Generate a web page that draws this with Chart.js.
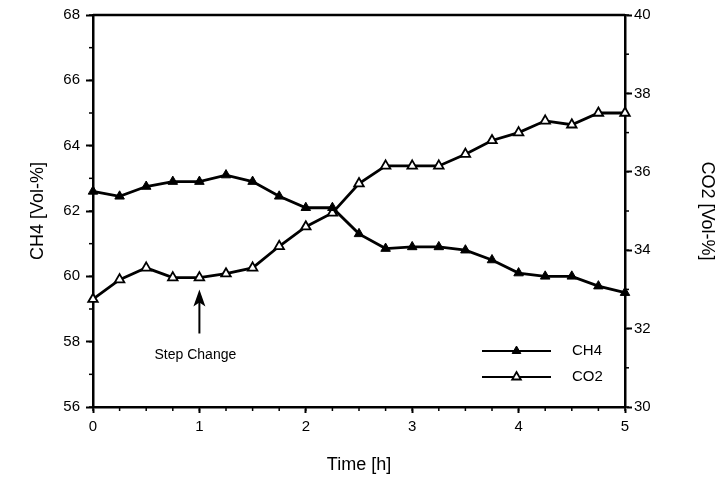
<!DOCTYPE html>
<html>
<head>
<meta charset="utf-8">
<script src="https://cdn.jsdelivr.net/npm/chart.js@4/dist/chart.umd.min.js"></script>
<style>
  html, body { margin: 0; padding: 0; background: #fff; }
</style>
</head>
<body>
<canvas id="gasChart" width="720" height="484"></canvas>
<script>
// === DATA ===
const hours = [0, 0.25, 0.5, 0.75, 1, 1.25, 1.5, 1.75, 2, 2.25, 2.5, 2.75, 3, 3.25, 3.5, 3.75, 4, 4.25, 4.5, 4.75, 5];
const ch4 = [62.6, 62.45, 62.75, 62.9, 62.9, 63.1, 62.9, 62.45, 62.1, 62.1, 61.3, 60.85, 60.9, 60.9, 60.8, 60.5, 60.1, 60.0, 60.0, 59.7, 59.5];
const co2 = [32.75, 33.25, 33.55, 33.3, 33.3, 33.4, 33.55, 34.1, 34.6, 34.95, 35.7, 36.15, 36.15, 36.15, 36.45, 36.8, 37.0, 37.3, 37.2, 37.5, 37.5];

const timeTicks = [0, 1, 2, 3, 4, 5];
const ch4Ticks = [56, 58, 60, 62, 64, 66, 68];
const co2Ticks = [30, 32, 34, 36, 38, 40];

const seriesNames = ['CH4', 'CO2'];
const stepChangeLabel = 'Step Change';
const stepChangeAt = 1;

const FONT = "'Liberation Sans', Arial, Helvetica, sans-serif";
Chart.defaults.font.family = FONT;
Chart.defaults.color = '#000';

const toPoints = (vals) => hours.map((h, i) => ({ x: h, y: vals[i] }));
const useTicks = (list) => (scale) => { scale.ticks = list.map(v => ({ value: v })); };

// minor ticks between the labelled ones
const minorTicks = {
  id: 'minorTicks',
  afterDraw(chart) {
    const ctx = chart.ctx;
    ctx.save();
    ctx.strokeStyle = '#000';
    ctx.lineWidth = 1.5;
    Object.values(chart.scales).forEach(scale => {
      const step = scale.options.minorStep;
      if (!step) return;
      const len = scale.options.minorLength || 4;
      for (let v = scale.min; v <= scale.max + 1e-9; v += step) {
        const p = scale.getPixelForValue(v);
        ctx.beginPath();
        if (scale.position === 'bottom') {
          ctx.moveTo(p, scale.top); ctx.lineTo(p, scale.top + len);
        } else if (scale.position === 'left') {
          ctx.moveTo(scale.right, p); ctx.lineTo(scale.right - len, p);
        } else {
          ctx.moveTo(scale.left, p); ctx.lineTo(scale.left + len, p);
        }
        ctx.stroke();
      }
    });
    // top frame line
    const a = chart.chartArea;
    ctx.lineWidth = 2.5;
    ctx.beginPath();
    ctx.moveTo(a.left, a.top);
    ctx.lineTo(a.right, a.top);
    ctx.stroke();
    ctx.restore();
  }
};

// arrow + caption marking the step change
const stepMarker = {
  id: 'stepMarker',
  afterDatasetsDraw(chart, args, opts) {
    const ctx = chart.ctx;
    const x = chart.scales.x.getPixelForValue(stepChangeAt);
    const yL = chart.scales.yCH4;
    const tip = yL.getPixelForValue(opts.tip);
    const tail = yL.getPixelForValue(opts.tail);
    ctx.save();
    ctx.strokeStyle = '#000';
    ctx.fillStyle = '#000';
    ctx.lineWidth = 2;
    ctx.beginPath();
    ctx.moveTo(x, tail);
    ctx.lineTo(x, tip + 10);
    ctx.stroke();
    ctx.beginPath();
    ctx.moveTo(x, tip);
    ctx.lineTo(x - 6, tip + 17);
    ctx.lineTo(x, tip + 13);
    ctx.lineTo(x + 6, tip + 17);
    ctx.closePath();
    ctx.fill();
    ctx.font = '14px ' + FONT;
    ctx.textAlign = 'center';
    ctx.textBaseline = 'middle';
    ctx.fillText(stepChangeLabel, x - 4, yL.getPixelForValue(opts.text));
    ctx.restore();
  }
};

// legend drawn inside the plot: line segment with marker, then name
const innerLegend = {
  id: 'innerLegend',
  afterDraw(chart, args, opts) {
    const ctx = chart.ctx;
    ctx.save();
    chart.data.datasets.forEach((ds, i) => {
      const y = opts.y + i * opts.rowGap;
      ctx.strokeStyle = '#000';
      ctx.lineWidth = 2;
      ctx.beginPath();
      ctx.moveTo(opts.x, y);
      ctx.lineTo(opts.x + opts.length, y);
      ctx.stroke();
      ctx.fillStyle = ds.pointBackgroundColor;
      ctx.strokeStyle = ds.pointBorderColor;
      ctx.lineWidth = ds.pointBorderWidth;
      Chart.helpers.drawPoint(ctx, { pointStyle: 'triangle', rotation: 0, radius: 5, borderWidth: ds.pointBorderWidth },
        opts.x + opts.length / 2, y);
      ctx.fillStyle = '#000';
      ctx.font = '15px ' + FONT;
      ctx.textAlign = 'left';
      ctx.textBaseline = 'middle';
      ctx.fillText(ds.label, opts.x + opts.length + opts.textGap, y);
    });
    ctx.restore();
  }
};

const axisCommon = {
  border: { display: true, color: '#000', width: 2.5 },
  grid: { display: true, drawOnChartArea: false, drawTicks: true, tickLength: 7, tickWidth: 2, tickColor: '#000' },
};

new Chart(document.getElementById('gasChart'), {
  type: 'line',
  data: {
    datasets: [
      {
        label: seriesNames[0],
        data: toPoints(ch4),
        yAxisID: 'yCH4',
        borderColor: '#000',
        borderWidth: 2.8,
        tension: 0,
        pointStyle: 'triangle',
        pointRadius: 5.5,
        pointBackgroundColor: '#000',
        pointBorderColor: '#000',
        pointBorderWidth: 1,
        clip: false
      },
      {
        label: seriesNames[1],
        data: toPoints(co2),
        yAxisID: 'yCO2',
        borderColor: '#000',
        borderWidth: 2.8,
        tension: 0,
        pointStyle: 'triangle',
        pointRadius: 5.5,
        pointBackgroundColor: '#fff',
        pointBorderColor: '#000',
        pointBorderWidth: 1.8,
        clip: false
      }
    ]
  },
  options: {
    responsive: false,
    animation: false,
    devicePixelRatio: 1,
    layout: { padding: { top: 8, left: 0, right: 0, bottom: 0 } },
    plugins: {
      legend: { display: false },
      tooltip: { enabled: false },
      stepMarker: { tip: 59.6, tail: 58.25, text: 57.6 },
      innerLegend: { x: 482, y: 351, rowGap: 26, length: 69, textGap: 21 }
    },
    scales: {
      x: {
        ...axisCommon,
        type: 'linear',
        position: 'bottom',
        min: 0, max: 5,
        minorStep: 0.25, minorLength: 4,
        afterBuildTicks: useTicks(timeTicks),
        afterFit: (s) => { s.height = 77; },
        grid: { ...axisCommon.grid, tickLength: 6 },
        ticks: { font: { size: 15 }, padding: 5, maxRotation: 0, autoSkip: false },
        title: { display: true, text: 'Time [h]', font: { size: 18 }, padding: { top: 0, bottom: 8 } }
      },
      yCH4: {
        ...axisCommon,
        type: 'linear',
        position: 'left',
        min: 56, max: 68,
        minorStep: 1, minorLength: 4,
        afterBuildTicks: useTicks(ch4Ticks),
        afterFit: (s) => { s.width = 93; },
        ticks: { font: { size: 15 }, padding: 6, autoSkip: false },
        title: { display: true, text: 'CH4 [Vol-%]', font: { size: 18 }, padding: { top: 27, bottom: 0 } }
      },
      yCO2: {
        ...axisCommon,
        type: 'linear',
        position: 'right',
        min: 30, max: 40,
        minorStep: 1, minorLength: 4,
        afterBuildTicks: useTicks(co2Ticks),
        afterFit: (s) => { s.width = 95; },
        ticks: { font: { size: 15 }, padding: 2, autoSkip: false },
        title: { display: true, text: 'CO2 [Vol-%]', font: { size: 18 }, padding: { top: 2, bottom: 0 } }
      }
    }
  },
  plugins: [minorTicks, stepMarker, innerLegend]
});
</script>
</body>
</html>
